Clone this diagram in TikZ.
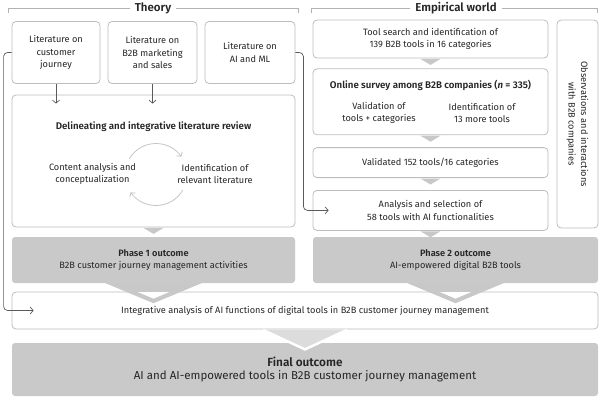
\documentclass[tikz,border=0pt]{standalone}
\usepackage{fontspec}
\setmainfont{Fira Sans}[BoldFont={Fira Sans SemiBold}]
\usepackage{xcolor}
\usetikzlibrary{positioning, calc, arrows.meta, shapes.geometric}

\definecolor{boxline}{HTML}{BDBDBD}
\definecolor{outfill}{HTML}{C9C9C9}
\definecolor{trifill}{HTML}{C8C8C8}
\definecolor{lightfill}{HTML}{DCDCDC}
\definecolor{arrowgray}{HTML}{5A5A5A}
\definecolor{txtgray}{HTML}{262626}

\begin{document}
\begin{tikzpicture}[
    x=1pt, y=-1pt,
    font=\fontsize{9.2}{12.5}\selectfont, text=txtgray,
    litbox/.style={draw=boxline, line width=0.8pt, rounded corners=4pt, fill=white, align=center, inner sep=0pt},
    outcome/.style={fill=outfill, rounded corners=3pt, align=center, inner sep=0pt},
    boldtitle/.style={font=\fontsize{9.7}{12}\selectfont\bfseries},
    hdtext/.style={font=\fontsize{11.5}{13}\selectfont\bfseries, fill=white, inner xsep=5pt, inner ysep=1pt},
    hdline/.style={draw=gray!60, line width=0.6pt},
    flow/.style={draw=arrowgray, line width=0.7pt, -{Straight Barb[length=3pt,width=7pt]}, rounded corners=4pt},
    loopline/.style={draw=gray!45, line width=0.8pt, -{Straight Barb[length=3pt,width=7pt]}},
    gtri/.style={fill=trifill}
]
\useasboundingbox (0,0) rectangle (602,400);

% Headers
\draw[hdline] (8,13) -- (8,8) -- (298,8) -- (298,13);
\draw[hdline] (311,13) -- (311,8) -- (597,8) -- (597,13);
\node[hdtext] (theory) at (153,8) {Theory};
\node[hdtext] (empir) at (456,8) {Empirical world};

% Theory side
\node[litbox, minimum width=88, minimum height=62] (lit1) at (56,52.5) {Literature on\\customer\\journey};
\node[litbox, minimum width=89, minimum height=62] (lit2) at (152.5,52.5) {Literature on\\B2B marketing\\and sales};
\node[litbox, minimum width=90, minimum height=62] (lit3) at (250,52.5) {Literature on\\AI and ML};

\node[litbox, minimum width=283, minimum height=132] (review) at (153.5,161) {};
\node[boldtitle] (revtitle) at (153.5,127) {Delineating and integrative literature review};
\node[align=center] (content) at (92.5,174) {Content analysis and\\conceptualization};
\node[align=center] (identify) at (215,174) {Identification of\\relevant literature};
\coordinate (cyc) at (156,174.5);
\draw[loopline] ($(cyc)+(-150:31)$) arc[start angle=-150, end angle=-35, radius=31];
\draw[loopline] ($(cyc)+(30:31)$) arc[start angle=30, end angle=145, radius=31];

\node[outcome, minimum width=283, minimum height=46] (phase1) at (153.5,260) {\textbf{Phase 1 outcome}\\B2B customer journey management activities};

% Empirical side
\node[litbox, minimum width=235, minimum height=38] (tools) at (430.5,39) {Tool search and identification of\\139 B2B tools in 16 categories};
\node[litbox, minimum width=235, minimum height=66, below=10pt of tools] (survey) {};
\node[boldtitle] (survtitle) at (430.5,85) {Online survey among B2B companies (\textit{n} = 335)};
\node[align=center] (validate) at (379,113) {Validation of\\tools + categories};
\node[align=center] (more) at (482,113) {Identification of\\13 more tools};
\node[litbox, minimum width=235, minimum height=30, below=12pt of survey] (valid) {Validated 152 tools/16 categories};
\node[litbox, minimum width=235, minimum height=40, below=12pt of valid] (analysis) {Analysis and selection of\\58 tools with AI functionalities};
\node[litbox, minimum width=208, minimum height=41, rotate=-90] (obs) at (577.5,124) {Observations and interactions\\with B2B companies};

\node[outcome, minimum width=285, minimum height=46] (phase2) at (455.5,260) {\textbf{Phase 2 outcome}\\AI-empowered digital B2B tools};

% Integration and final outcome
\node[litbox, minimum width=586, minimum height=37] (integ) at (305,310.5) {Integrative analysis of AI functions of digital tools in B2B customer journey management};
\node[outcome, minimum width=586, minimum height=53] (final) at (305,369.5) {\fontsize{11.8}{16}\selectfont\textbf{Final outcome}\\\fontsize{11.5}{16}\selectfont AI and AI-empowered tools in B2B customer journey management};

% Small gray tips between steps
\foreach \n in {tools, survey, valid, analysis, review} {
  \fill[gtri] ($(\n.south)+(-10,0.5)$) -- ($(\n.south)+(10,0.5)$) -- ($(\n.south)+(0,6.5)$) -- cycle;
}

% Big chevrons
\foreach \n in {phase1, phase2} {
  \fill[gtri] ($(\n.south)+(-48,0)$) -- ($(\n.south)+(48,0)$) -- ($(\n.south)+(0,20)$) -- cycle;
  \fill[white] ($(\n.south |- integ.north)+(-15.5,0.5)$) -- ($(\n.south |- integ.north)+(15.5,0.5)$) -- ($(\n.south |- integ.north)+(0,7)$) -- cycle;
}
\fill[lightfill] ($(integ.south)+(-42,0.5)$) -- ($(integ.south)+(42,0.5)$) -- ($(integ.south)+(0,20)$) -- cycle;
\draw[white, line width=2.5pt] ($(integ.south)+(-42,0.5)$) -- ($(integ.south)+(0,20)$) -- ($(integ.south)+(42,0.5)$);

% Connectors
\draw[flow] (lit1.south) -- ($(lit1.south |- review.north)+(0,9)$);
\draw[flow] (lit2.south) -- ($(lit2.south |- review.north)+(0,9)$);
\draw[flow] (lit1.west) -- ++(-8,0) |- ($(integ.west)+(22,0)$);
\draw[flow] (lit3.east) -- ++(8,0) |- ($(analysis.west)+(16,0)$);

\end{tikzpicture}
\end{document}
